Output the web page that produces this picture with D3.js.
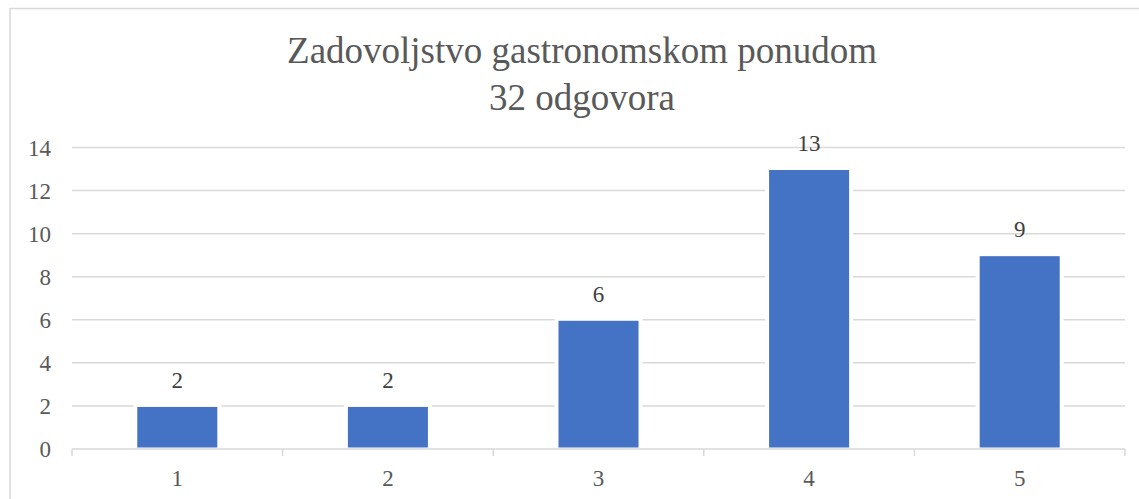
<!DOCTYPE html>
<html><head><meta charset="utf-8">
<script src="https://cdn.jsdelivr.net/npm/d3@7/dist/d3.min.js"></script>
</head><body style="margin:0">
<svg id="chart" width="1139" height="499" style="display:block"></svg>
<script>
const categories = ["1", "2", "3", "4", "5"];
const values = [2, 2, 6, 13, 9];
const yTicks = [0, 2, 4, 6, 8, 10, 12, 14];
const titleLines = ["Zadovoljstvo gastronomskom ponudom", "32 odgovora"];

const svg = d3.select("#chart");
const serifFont = '"Times New Roman", "Liberation Serif", Tinos, serif';
const textColor = "#595959";
const gridColor = "#d9d9d9";
const barColor = "#4472C4";

const pLeft = 72, pRight = 1125, pTop = 147.5, pBottom = 449;

svg.append("rect").attr("x", 10).attr("y", 8.5).attr("width", 1160).attr("height", 520)
  .attr("fill", "#fff").attr("stroke", gridColor).attr("stroke-width", 1.5);

const x = d3.scaleBand().domain(categories).range([pLeft, pRight]).paddingInner(0.62).paddingOuter(0.31);
const xb = d3.scaleBand().domain(categories).range([pLeft, pRight]);
const y = d3.scaleLinear().domain([0, 14]).range([pBottom, pTop]);

svg.append("g").selectAll("line").data(yTicks.filter(d => d > 0)).join("line")
  .attr("x1", pLeft).attr("x2", pRight).attr("y1", d => y(d)).attr("y2", d => y(d))
  .attr("stroke", gridColor).attr("stroke-width", 1.5);

svg.append("g").selectAll("text").data(yTicks).join("text")
  .attr("x", 51).attr("y", d => y(d) + 8)
  .attr("font-family", serifFont).style("font-family", serifFont).style("font-size", "23px")
  .style("text-anchor", "end").style("fill", textColor).text(d => d);

const bars = svg.append("g");
bars.selectAll("rect.bg").data(values).join("rect").attr("class", "bg")
  .attr("x", (d, i) => x(categories[i]) - 4).attr("width", x.bandwidth() + 8)
  .attr("y", d => y(d) - 1).attr("height", d => pBottom - y(d) + 1).attr("fill", "#fff");
bars.selectAll("rect.bar").data(values).join("rect").attr("class", "bar")
  .attr("x", (d, i) => x(categories[i])).attr("width", x.bandwidth())
  .attr("y", d => y(d) + 1).attr("height", d => pBottom - 2.5 - y(d)).attr("fill", barColor);

svg.append("g").selectAll("text").data(values).join("text")
  .attr("x", (d, i) => x(categories[i]) + x.bandwidth() / 2).attr("y", d => y(d) - 18)
  .attr("font-family", serifFont).style("font-family", serifFont).style("font-size", "23px")
  .style("text-anchor", "middle").style("fill", "#404040").text(d => d);

const ax = svg.append("g").attr("transform", `translate(0,${pBottom})`)
  .call(d3.axisBottom(xb).tickSize(0).tickFormat(""));
ax.select(".domain").attr("stroke", gridColor).attr("stroke-width", 1.5).attr("d", `M${pLeft},0H${pRight}`);
const bounds = categories.map(c => xb(c)).concat([pRight]);
ax.selectAll("line.tk").data(bounds).join("line").attr("class", "tk")
  .attr("x1", d => d).attr("x2", d => d).attr("y1", 0).attr("y2", 7)
  .attr("stroke", gridColor).attr("stroke-width", 1.5);

svg.append("g").selectAll("text").data(categories).join("text")
  .attr("x", d => xb(d) + xb.bandwidth() / 2).attr("y", 486)
  .attr("font-family", serifFont).style("font-family", serifFont).style("font-size", "23px")
  .style("text-anchor", "middle").style("fill", textColor).text(d => d);

svg.append("g").selectAll("text").data(titleLines).join("text")
  .attr("x", 582).attr("y", (d, i) => 63 + i * 47)
  .attr("font-family", serifFont).style("font-family", serifFont).style("font-size", "37px")
  .style("text-anchor", "middle").style("fill", textColor).text(d => d);
</script>
</body></html>
